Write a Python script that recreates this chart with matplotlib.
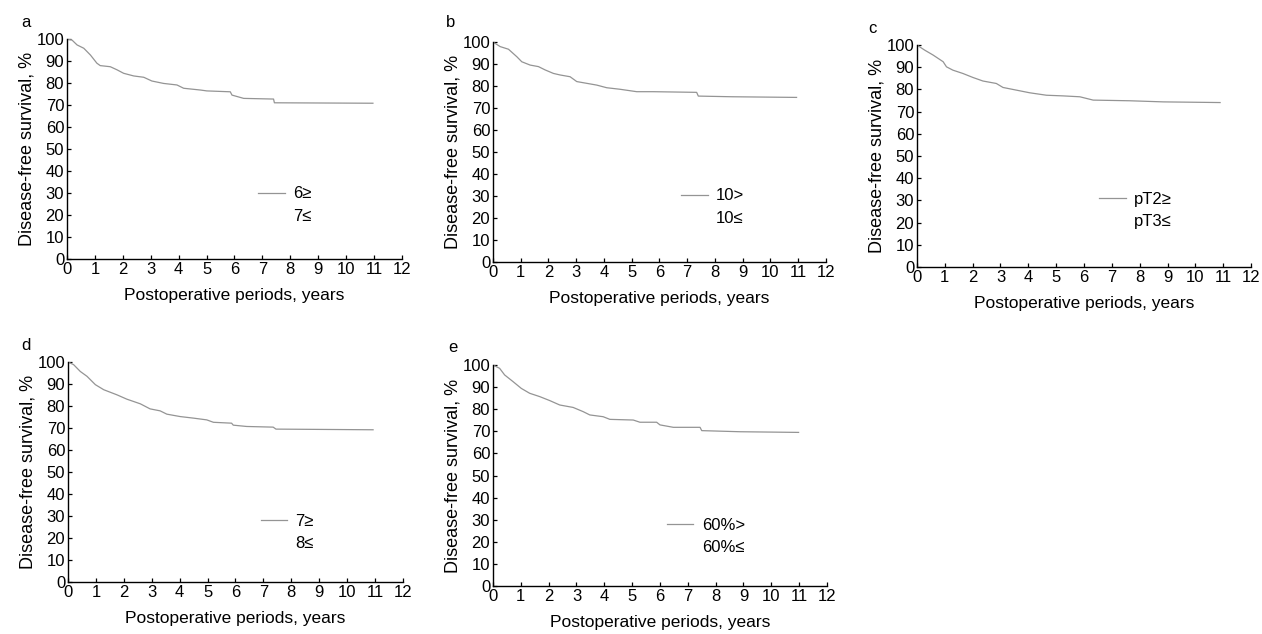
import matplotlib
matplotlib.use("Agg")
import matplotlib.pyplot as plt
from matplotlib.lines import Line2D

plt.rcParams['font.family'] = ['Liberation Sans', 'DejaVu Sans']

# Kaplan-Meier curves (years, % disease-free)
years_a = [0, 0.18, 0.36, 0.6, 0.84, 1.07, 1.19, 1.55, 1.79, 2.03, 2.39, 2.75, 3.04, 3.46, 3.94,
           4.18, 4.78, 5.01, 5.85, 5.91, 6.33, 7.4, 7.43, 10.96]
surv_a = [100, 99.5, 97.3, 95.8, 92.7, 89.0, 87.9, 87.4, 86.0, 84.4, 83.2, 82.6, 80.9, 79.8, 79.1,
          77.6, 76.8, 76.4, 76.0, 74.5, 73.0, 72.7, 71.0, 70.8]

years_b = [0, 0.26, 0.56, 0.86, 1.04, 1.34, 1.64, 1.88, 2.18, 2.42, 2.78, 3.02, 3.38, 3.74, 4.1,
           4.58, 5.18, 5.78, 7.34, 7.4, 8.6, 10.94]
surv_b = [100, 97.9, 96.7, 93.3, 91.0, 89.5, 88.8, 87.3, 85.7, 85.0, 84.2, 82.0, 81.2, 80.4, 79.2,
          78.5, 77.4, 77.4, 77.1, 75.4, 75.1, 74.8]

years_c = [0, 0.28, 0.58, 0.94, 1.06, 1.29, 1.65, 2.01, 2.37, 2.85, 3.09, 3.57, 4.05, 4.65, 5.25,
           5.85, 6.33, 7.65, 8.85, 10.89]
surv_c = [100, 97.7, 95.5, 92.5, 90.2, 88.7, 87.2, 85.4, 83.8, 82.7, 80.9, 79.7, 78.5, 77.4, 77.1,
          76.7, 75.2, 74.9, 74.4, 74.1]

years_d = [0, 0.2, 0.44, 0.68, 0.98, 1.28, 1.75, 2.11, 2.59, 2.94, 3.3, 3.54, 4.02, 4.49, 4.97,
           5.21, 5.86, 5.92, 6.4, 7.35, 7.45, 10.93]
surv_d = [100, 98.8, 95.7, 93.5, 89.7, 87.4, 85.1, 83.1, 81.0, 78.7, 77.8, 76.3, 75.2, 74.5, 73.7,
          72.6, 72.2, 71.3, 70.7, 70.4, 69.5, 69.2]

years_e = [0, 0.24, 0.42, 0.72, 1.02, 1.32, 1.68, 2.04, 2.4, 2.88, 3.24, 3.48, 3.96, 4.2, 5.04,
           5.28, 5.88, 6.0, 6.48, 7.44, 7.5, 8.88, 10.98]
surv_e = [100, 98.5, 95.5, 92.5, 89.4, 87.2, 85.7, 83.9, 81.9, 80.8, 78.9, 77.4, 76.6, 75.4, 75.1,
          74.1, 74.1, 72.9, 71.8, 71.8, 70.3, 69.8, 69.5]

panel_letters = ['a', 'b', 'c', 'd', 'e']
group_labels = [('6≥', '7≤'), ('10>', '10≤'), ('pT2≥', 'pT3≤'), ('7≥', '8≤'), ('60%>', '60%≤')]
x_ticks = list(range(0, 13))
y_ticks = list(range(0, 101, 10))

curves = [(years_a, surv_a), (years_b, surv_b), (years_c, surv_c), (years_d, surv_d), (years_e, surv_e)]

# axes rectangles [left, bottom, width, height] in figure fraction
rects = [
    [0.0531, 0.5915, 0.2654, 0.347],
    [0.3906, 0.5868, 0.2639, 0.347],
    [0.7266, 0.5789, 0.2647, 0.350],
    [0.0539, 0.0820, 0.2654, 0.347],
    [0.3906, 0.0757, 0.2647, 0.3486],
]
# legend anchors (axes fraction) and letter positions (figure fraction)
legend_anchor = [(0.55, 0.36), (0.545, 0.365), (0.525, 0.37), (0.555, 0.34), (0.50, 0.34)]
letter_pos = [(0.017, 0.965), (0.353, 0.965), (0.688, 0.955), (0.017, 0.455), (0.355, 0.452)]

fig = plt.figure(figsize=(12.62, 6.34), dpi=100)

for i, (yrs, surv) in enumerate(curves):
    ax = fig.add_axes(rects[i])
    ax.plot(yrs, surv, color='#949494', lw=0.9)
    ax.set_xlim(0, 12)
    ax.set_ylim(0, 100)
    ax.set_xticks(x_ticks)
    ax.set_yticks(y_ticks)
    ax.spines['top'].set_visible(False)
    ax.spines['right'].set_visible(False)
    for s in ['left', 'bottom']:
        ax.spines[s].set_linewidth(1.0)
    ax.tick_params(direction='in', length=3, width=0.9, labelsize=12, pad=2)
    ax.set_xlabel('Postoperative periods, years', fontsize=12.5, labelpad=8)
    ax.set_ylabel('Disease-free survival, %', fontsize=13, labelpad=1)

    handles = [Line2D([], [], color='#949494', lw=0.9),
               Line2D([], [], color='white', lw=0.9)]
    ax.legend(handles, group_labels[i], loc='upper left', bbox_to_anchor=legend_anchor[i],
              frameon=False, fontsize=12, handlelength=1.6, handletextpad=0.5,
              labelspacing=0.45, borderaxespad=0)

    fig.text(letter_pos[i][0], letter_pos[i][1], panel_letters[i], fontsize=12, va='center')

fig.savefig('out.png', dpi=100)
